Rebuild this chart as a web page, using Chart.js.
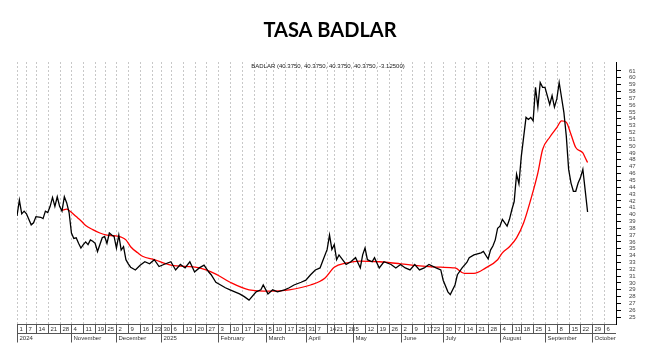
<!DOCTYPE html>
<html>
<head>
<meta charset="utf-8">
<script src="https://cdn.jsdelivr.net/npm/chart.js@4.4.1/dist/chart.umd.min.js"></script>
<style>
  html, body { margin: 0; padding: 0; background: #fff; }
  #wrap { width: 659px; height: 347px; }
</style>
</head>
<body>
<div id="wrap"><canvas id="badlar"></canvas></div>
<script>
// trading calendar (session 0 = 2024-10-01)
const firstDay = '2024-10-01';
const lastDay = '2025-10-10';
const holidays = ['2024-10-11', '2024-11-18', '2024-12-25', '2025-01-01', '2025-03-03', '2025-03-04',
  '2025-03-24', '2025-04-02', '2025-04-17', '2025-04-18', '2025-05-01', '2025-05-02',
  '2025-06-16', '2025-06-20', '2025-07-09', '2025-08-15'];
const monthNames = ['January', 'February', 'March', 'April', 'May', 'June', 'July',
  'August', 'September', 'October', 'November', 'December'];

// BADLAR (session number -> rate)
const sessionNo = [0, 1, 2, 3, 4, 6, 7, 8, 10, 11, 12, 13, 14, 15, 16, 17, 18, 19, 20, 21, 22, 23, 24, 25, 26,
  27, 28, 29, 30, 31, 32, 33, 34, 36, 37, 38, 39, 40, 41, 42, 43, 44, 45, 46, 47, 48, 50, 52, 54, 56, 58, 60,
  62, 65, 67, 69, 71, 73, 75, 77, 79, 81, 82, 84, 86, 88, 90, 92, 94, 96, 98, 101, 103, 104, 106, 108, 110,
  113, 115, 117, 120, 122, 124, 126, 128, 129, 131, 132, 133, 134, 135, 136, 139, 141, 143, 145, 146, 147,
  148, 150, 151, 153, 155, 158, 160, 162, 164, 166, 168, 170, 172, 174, 177, 179, 180, 182, 183, 185, 186,
  188, 190, 191, 193, 196, 197, 199, 200, 201, 202, 203, 204, 205, 207, 208, 209, 210, 211, 212, 213, 215,
  216, 217, 218, 219, 220, 221, 222, 223, 225, 226, 227, 228, 229, 231, 232, 233, 234, 235, 236, 237, 238,
  239, 240, 241];
const badlar = [39.8, 42.1, 40.1, 40.5, 40.1, 38.5, 38.8, 39.7, 39.6, 39.4, 40.5, 40.3, 41.2, 42.5, 41.2,
  42.6, 41.2, 40.5, 42.6, 41.7, 40.3, 37.3, 36.5, 36.6, 35.8, 35.1, 35.6, 36.0, 35.6, 36.3, 36.1, 35.8, 34.6,
  36.6, 36.8, 35.8, 37.3, 37.0, 36.8, 35.1, 37.0, 34.8, 35.3, 33.4, 32.8, 32.3, 31.9, 32.6, 33.1, 32.8, 33.4,
  32.4, 32.7, 33.1, 31.9, 32.7, 32.2, 33.1, 31.6, 32.2, 32.6, 31.6, 31.2, 30.1, 29.7, 29.3, 29.0, 28.7, 28.4,
  28.0, 27.5, 28.7, 29.0, 29.7, 28.4, 29.0, 28.7, 29.0, 29.3, 29.7, 30.1, 30.4, 31.2, 31.9, 32.2, 33.1, 34.9,
  37.0, 34.9, 35.6, 33.4, 34.1, 32.7, 33.1, 33.7, 32.2, 34.1, 35.1, 33.4, 33.1, 33.7, 32.2, 33.1, 32.7, 32.2,
  32.7, 32.2, 31.9, 32.7, 31.9, 32.2, 32.7, 32.2, 31.9, 30.4, 28.7, 28.3, 29.7, 31.2, 32.2, 33.0, 33.7, 34.1,
  34.4, 34.6, 33.5, 34.8, 35.4, 36.3, 38.0, 38.3, 39.3, 38.3, 39.3, 40.7, 41.9, 45.9, 44.5, 48.5, 54.2, 53.9,
  54.2, 53.7, 58.6, 55.7, 59.3, 58.6, 58.6, 56.1, 57.4, 55.7, 56.9, 59.3, 54.9, 51.5, 46.6, 44.6, 43.4, 43.4,
  44.6, 45.4, 46.6, 43.5, 40.375];

// moving average (red)
const maSession = [19, 21, 22, 25, 27, 29, 32, 35, 38, 41, 44, 46, 48, 51, 53, 58, 65, 77, 84, 90, 98, 107,
  115, 124, 130, 134, 139, 145, 153, 162, 170, 179, 185, 189, 193, 198, 203, 205, 208, 211, 214, 217, 220,
  222, 225, 228, 230, 232, 234, 236, 239, 240, 241];
const badlarMA = [40.6, 40.8, 40.6, 39.7, 39.1, 38.4, 37.8, 37.3, 37.0, 36.9, 36.7, 36.3, 35.3, 34.4, 33.9,
  33.4, 32.6, 32.2, 31.3, 30.1, 29.0, 28.8, 29.0, 29.7, 30.7, 32.3, 32.9, 33.2, 33.1, 32.8, 32.5, 32.3, 32.2,
  31.4, 31.4, 32.2, 33.4, 34.4, 35.3, 36.6, 38.8, 42.2, 46.1, 49.5, 51.3, 52.7, 53.7, 53.5, 51.7, 49.8, 49.0,
  48.3, 47.6];

const legendText = 'BADLAR (40.3750, 40.3750, 40.3750, 40.3750, -3.12500)';
const yFirstLabel = 25;
const yLastLabel = 61;

// build sessions and weekly boxes
const sessions = [];
for (let d = new Date(firstDay + 'T00:00:00Z'); d <= new Date(lastDay + 'T00:00:00Z'); d.setUTCDate(d.getUTCDate() + 1)) {
  const iso = d.toISOString().slice(0, 10);
  if (d.getUTCDay() === 0 || d.getUTCDay() === 6 || holidays.includes(iso)) continue;
  sessions.push(new Date(d));
}
const weeks = [];
sessions.forEach((d, i) => {
  const monday = new Date(d); monday.setUTCDate(d.getUTCDate() - (d.getUTCDay() + 6) % 7);
  const key = monday.toISOString().slice(0, 10);
  if (weeks.length && weeks[weeks.length - 1].key === key) return;
  const wed = new Date(monday); wed.setUTCDate(monday.getUTCDate() + 2);
  weeks.push({key, idx: i, day: d.getUTCDate(), month: wed.getUTCMonth(), year: wed.getUTCFullYear()});
});

const font = '"Liberation Sans", Arial, sans-serif';

const metaAxis = {
  id: 'metaAxis',
  beforeDatasetsDraw(chart) {
    const {ctx, chartArea: a, scales: {x}} = chart;
    ctx.save();
    ctx.strokeStyle = '#c8c8c8';
    ctx.lineWidth = 1;
    ctx.setLineDash([2, 2]);
    weeks.forEach(w => {
      const px = Math.round(x.getPixelForValue(w.idx)) + 0.5;
      if (px > a.right) return;
      ctx.beginPath(); ctx.moveTo(px, a.top); ctx.lineTo(px, a.bottom); ctx.stroke();
    });
    ctx.restore();
  },
  afterDraw(chart) {
    const {ctx, chartArea: a, scales: {x}} = chart;
    const top = a.bottom + 0.5;
    ctx.save();
    ctx.strokeStyle = '#555';
    ctx.lineWidth = 1;
    ctx.beginPath();
    ctx.moveTo(a.left, top); ctx.lineTo(a.right, top);
    ctx.moveTo(a.left, top + 9); ctx.lineTo(a.right, top + 9);
    ctx.stroke();
    ctx.font = '6px ' + font;
    ctx.fillStyle = '#333';
    ctx.textBaseline = 'middle';
    let lastMonth = null;
    weeks.forEach((w, i) => {
      const px = Math.round(x.getPixelForValue(w.idx)) + 0.5;
      if (px > a.right) return;
      const newMonth = w.month !== lastMonth;
      lastMonth = w.month;
      ctx.beginPath(); ctx.moveTo(px, top); ctx.lineTo(px, top + (newMonth ? 18 : 9)); ctx.stroke();
      ctx.fillText(String(w.day), px + 2, top + 5);
      if (newMonth) {
        const name = (i === 0 || w.month === 0) ? String(w.year) : monthNames[w.month];
        ctx.fillText(name, px + 2, top + 14);
      }
    });
    // title and legend line
    ctx.textAlign = 'center';
    ctx.fillStyle = '#000';
    ctx.font = 'bold 20px Lato, "Liberation Sans", sans-serif';
    ctx.fillText('TASA BADLAR', 330, 31);
    ctx.font = '6px ' + font;
    ctx.fillStyle = '#222';
    ctx.fillText(legendText, 328, 66);
    ctx.restore();
  }
};

new Chart(document.getElementById('badlar'), {
  type: 'line',
  data: {
    datasets: [
      {
        label: 'BADLAR',
        data: sessionNo.map((s, i) => ({x: s, y: badlar[i]})),
        borderColor: '#000',
        borderWidth: 1.3,
        pointRadius: 0,
        tension: 0,
      },
      {
        label: 'Media',
        data: maSession.map((s, i) => ({x: s, y: badlarMA[i]})),
        borderColor: '#ff0000',
        borderWidth: 1.3,
        pointRadius: 0,
        cubicInterpolationMode: 'monotone',
      },
    ]
  },
  options: {
    animation: false,
    responsive: true,
    maintainAspectRatio: false,
    devicePixelRatio: 1,
    layout: {padding: {left: 17, top: 62, bottom: 23, right: 0}},
    plugins: {
      legend: {display: false},
      tooltip: {enabled: false},
    },
    scales: {
      x: {type: 'linear', min: 0, max: 253, display: false},
      y: {
        position: 'right',
        min: 24,
        max: 62.3,
        afterFit: s => { s.width = 43; },
        afterBuildTicks: s => {
          s.ticks = s.ticks.filter(t => Number.isInteger(t.value) && t.value >= yFirstLabel && t.value <= yLastLabel);
        },
        ticks: {stepSize: 1, autoSkip: false, padding: 8, color: '#444', font: {size: 6, family: font}},
        grid: {drawOnChartArea: false, drawTicks: true, tickLength: 5, color: '#000'},
        border: {display: true, color: '#000'},
      },
    },
  },
  plugins: [metaAxis],
});
</script>
</body>
</html>
